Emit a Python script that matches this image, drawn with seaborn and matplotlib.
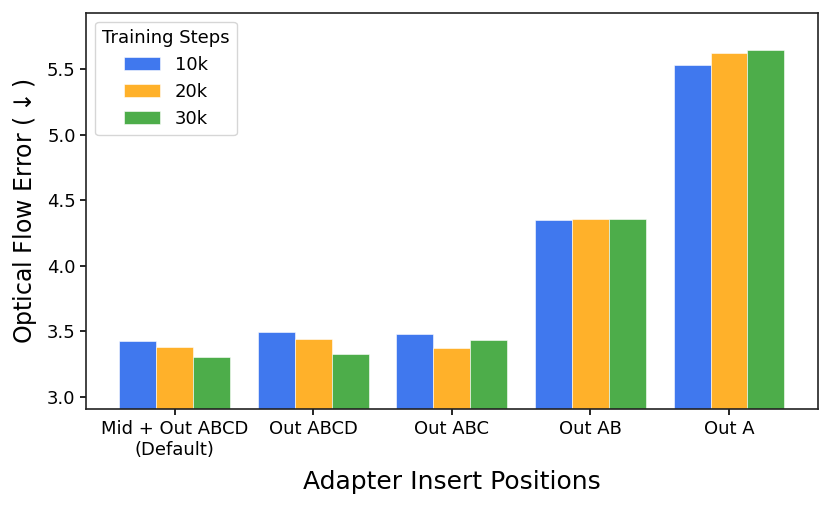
import pandas as pd
import matplotlib
matplotlib.use('Agg')
import matplotlib.pyplot as plt
import seaborn as sns

# values
positions = ['Mid + Out ABCD\n(Default)', 'Out ABCD', 'Out ABC', 'Out AB', 'Out A']
steps = ['10k', '20k', '30k']
err_10k = [3.427, 3.494, 3.476, 4.345, 5.530]
err_20k = [3.377, 3.440, 3.369, 4.355, 5.622]
err_30k = [3.303, 3.328, 3.430, 4.354, 5.647]
colors = ['#4078EE', '#FFB12A', '#4DAD4A']

rows = []
for step, vals in zip(steps, [err_10k, err_20k, err_30k]):
    for pos, v in zip(positions, vals):
        rows.append({'position': pos, 'steps': step, 'error': v})
df = pd.DataFrame(rows)

sns.set_style('ticks', {'text.color': 'black', 'xtick.color': 'black',
                        'ytick.color': 'black', 'axes.labelcolor': 'black'})
plt.rcParams['font.family'] = ['DejaVu Sans']

fig = plt.figure(figsize=(8.31, 5.05), dpi=100)
ax = fig.add_axes([0.1035, 0.1895, 0.8805, 0.7855])
sns.barplot(data=df, x='position', y='error', hue='steps', palette=colors,
            width=0.8, edgecolor='white', linewidth=0.4, saturation=1, ax=ax)

ax.set_ylim(2.904, 5.93)
ax.set_xlim(-0.64, 4.64)
ax.set_yticks([3.0, 3.5, 4.0, 4.5, 5.0, 5.5])
ax.tick_params(axis='both', labelsize=13, colors='black', length=4, width=1.2)
ax.set_xlabel('Adapter Insert Positions', fontsize=18, labelpad=8)
ax.set_ylabel(r'Optical Flow Error ($\downarrow$)', fontsize=17, labelpad=6)
for s in ax.spines.values():
    s.set_visible(True)
    s.set_linewidth(1.2)
    s.set_color('#222222')

leg = ax.legend(title='Training Steps', loc='upper left', fontsize=13, title_fontsize=13)
leg.get_frame().set_edgecolor('#cccccc')

fig.savefig('out.png', dpi=100)
